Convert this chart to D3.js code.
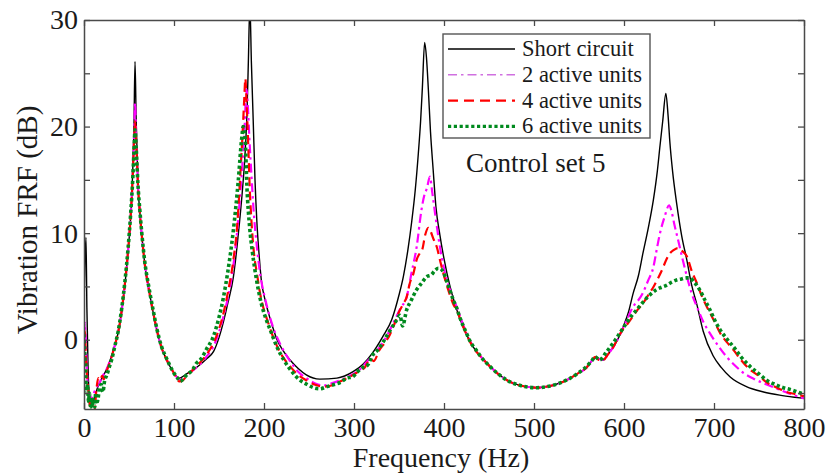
<!DOCTYPE html>
<html>
<head>
<meta charset="utf-8">
<script src="https://cdn.jsdelivr.net/npm/d3@7"></script>
<style>
  html, body { margin: 0; padding: 0; background: #fff; }
  svg { display: block; }
  text { font-family: "Liberation Serif", "Times New Roman", serif; }
</style>
</head>
<body>
<svg id="chart" width="829" height="475"></svg>
<script>
// ---------------- data ----------------
const xTicks = [0, 100, 200, 300, 400, 500, 600, 700, 800];
const yTicks = [-5, 0, 5, 10, 15, 20, 25, 30];
const yTickLabels = [0, 10, 20, 30];
const seriesNames = ["Short circuit", "2 active units", "4 active units", "6 active units"];

const shortCircuit = [
  [0,3.0],[1,7.0],[2.2,9.6],[3.2,3.0],[4.5,-2.5],[6,-5.5],[8,-6.2],[11,-5.6],[15,-4.5],[20,-3.6],
  [25,-2.8],[30,-1.7],[34,-0.6],[38,0.7],[42,2.8],[45.5,5.2],[49,8.3],[52,11.8],[54,15.5],[55.5,20],
  [56.7,26.1],[58,20.5],[60,14.5],[62,12],[64,10],[68,6.8],[71.5,5],[77,2.5],[81,0.9],[86,-0.7],
  [92,-1.9],[99,-3.0],[106,-3.6],[114,-3.2],[125,-2.6],[136,-1.8],[144,-1.1],[150,0.2],[155,1.7],
  [160,3.5],[166,5.9],[170,8.7],[173,11.2],[176,14],[179,17.5],[181,21],[182.6,26],[184.3,31.5],
  [186,26],[188,20.6],[190,15],[192,11.2],[195,7.5],[197,5.6],[201,3.8],[205,2.5],[210,1.1],[214,0.1],
  [221,-1.0],[229,-1.9],[238,-2.7],[247,-3.3],[262,-3.7],[281,-3.6],[299,-3.0],[310,-2.3],[320,-1.3],
  [332,0.3],[342,1.9],[350,4.2],[355,6.0],[360,8.5],[364,11.0],[368,14],[371.5,17.5],[374,20.5],
  [376,23.7],[378.5,27.9],[380.5,26.5],[382.6,23.5],[385,19.5],[388,15.9],[391,12.5],[395.5,9.8],
  [400,7.6],[406.7,5.0],[412,3.4],[418,1.9],[425,0.5],[432.6,-0.7],[441,-1.6],[451,-2.5],[460,-3.2],
  [470,-3.8],[485,-4.3],[503,-4.5],[520,-4.3],[536,-3.8],[548,-3.2],[558.5,-2.6],[564,-2.0],[568,-1.7],
  [572,-1.8],[577,-1.9],[582,-1.4],[588,-0.7],[594,0.2],[599,1.2],[605,2.6],[610,4.3],[616,6.0],
  [621,8.1],[627,10.5],[632.6,13.1],[637,15.8],[640,18.2],[643,20.5],[646.5,23.1],[649,21.0],[651,18.5],
  [654,15.8],[658.5,12.8],[664,9.8],[670,7.4],[675,5.2],[681,3.3],[688,0.8],[699,-1.5],[708,-2.6],
  [718,-3.5],[736,-4.4],[755,-4.9],[773,-5.2],[790,-5.4],[800,-5.5]
];

const twoUnits = [
  [0,-1],[0.8,1.6],[1.8,0.5],[3,-2.5],[5,-4.8],[7,-5.5],[10,-5.2],[13,-4.6],[17,-4.1],[20,-3.5],
  [25,-2.8],[30,-1.7],[34,-0.6],[38,0.7],[42,2.8],[45.5,5.2],[49,8.3],[52,11.8],[54,15.2],[55.6,19],
  [56.7,22.2],[58,19],[60,14.5],[62,12],[64,10],[68,6.8],[71.5,5],[77,2.5],[81,0.9],[86,-0.7],
  [92,-1.9],[99,-3.0],[106,-3.7],[110,-3.6],[114,-3.3],[125,-2.6],[136,-1.6],[144,-0.6],[150,0.7],
  [155,2.2],[160,4.0],[166,7.0],[170,10],[173,13],[176,16.5],[178.5,20],[180.5,23.5],[182,22],
  [184,18.5],[186,15.5],[189,11.5],[192,8.8],[196,6.0],[200,4.3],[205,2.6],[210,1.2],[218,-0.4],
  [229,-2.0],[238,-3.0],[247,-3.6],[257,-4.1],[266,-4.3],[275,-4.1],[285,-3.8],[295,-3.4],[305,-2.9],
  [315,-2.0],[322,-1.4],[330,-0.5],[338,0.6],[345,1.8],[352,3.0],[358.5,4.0],[364,6.3],[369.6,8.7],
  [375,12.2],[378,13.5],[381,14.2],[384.4,15.3],[387,13.8],[390,11.9],[395.5,8.7],[403,5.6],[409,4.2],
  [414,3.1],[420,1.7],[426,0.4],[433,-0.7],[441,-1.6],[451,-2.5],[460,-3.2],[470,-3.8],[485,-4.3],
  [503,-4.5],[520,-4.3],[536,-3.8],[548,-3.2],[558.5,-2.6],[564,-2.0],[568,-1.7],[572,-1.8],[577,-1.9],
  [582,-1.4],[588,-0.7],[594,0.2],[599,1.1],[603,1.8],[610,3.1],[615,3.6],[621,4.4],[627,5.6],
  [632.6,6.8],[636,8.3],[640,10.0],[645,11.5],[650,12.6],[653,12.0],[656,10.8],[660,9.4],[665,7.6],
  [670,5.9],[675,4.4],[681,3.1],[688,1.7],[695.5,0.6],[705,-0.6],[714,-1.6],[723,-2.4],[732.6,-3.1],
  [745,-3.7],[758.5,-4.2],[770,-4.6],[782,-5.0],[796,-5.4],[800,-5.5]
];

const fourUnits = [
  [0,0.5],[1,0.8],[2,-1.5],[4,-4],[6,-5.8],[8,-7],[10,-7.5],[12,-6.5],[14,-4.5],[16,-3.6],[18,-3.8],
  [20,-3.4],[22,-3.7],[25,-3.0],[30,-1.8],[34,-0.6],[38,0.7],[42,2.8],[45.5,5.3],[49,8.4],[52,11.8],
  [54,15.0],[55.6,18.5],[56.7,20.5],[58,18.5],[60,14.5],[62,12],[64,10],[68,6.8],[71.5,5],[77,2.5],
  [81,0.9],[86,-0.7],[92,-1.9],[99,-3.0],[106,-3.9],[110,-3.8],[114,-3.4],[125,-2.5],[136,-1.4],
  [144,-0.3],[150,1.0],[155,2.5],[160,4.5],[166,7.5],[170,10.5],[172,13],[174,16],[176,19],[178,22.5],
  [179.3,24.5],[180.5,22.5],[182.6,18],[184,14.5],[186,11.2],[189,8.0],[192,6.3],[196,4.2],[199,3.1],
  [205,1.5],[210,0.3],[218,-1.2],[229,-2.5],[238,-3.3],[247,-3.8],[256,-4.2],[266,-4.4],[275,-4.3],
  [285,-3.9],[295,-3.5],[305,-3.0],[312,-2.6],[318,-1.8],[322,-2.0],[328,-1.0],[335,-0.2],[340,0.5],
  [345,1.5],[350,2.6],[355,3.4],[358.5,4.0],[362,5.3],[366,6.2],[369.6,7.5],[373,8.1],[376,8.5],
  [379,9.8],[382.6,10.5],[385,10.2],[388,9.5],[392,8.7],[396,7.3],[399,6.3],[405,4.6],[410,3.4],
  [415,2.6],[420,1.5],[426,0.3],[433,-0.8],[441,-1.6],[451,-2.5],[460,-3.2],[470,-3.8],[485,-4.3],
  [503,-4.5],[520,-4.3],[536,-3.8],[548,-3.2],[558.5,-2.6],[564,-2.0],[568,-1.6],[572,-1.9],[577,-1.9],
  [582,-1.4],[588,-0.7],[594,0.3],[599,1.0],[604,1.5],[610,2.2],[615,2.8],[621,3.4],[627,4.2],[633,5.0],
  [638,5.8],[642,6.5],[647,7.5],[651,8.1],[655,8.4],[660,8.6],[665,8.3],[670,7.8],[675,6.5],[681,5.3],
  [686,4.2],[692,3.1],[700,1.8],[707,0.6],[714,-0.2],[722,-1.0],[730,-1.9],[740,-2.8],[750,-3.4],
  [758.5,-4.0],[770,-4.5],[780.7,-4.9],[790,-5.1],[800,-5.3]
];

const sixUnits = [
  [0,0.5],[1,-1.5],[2,-3.5],[3,-5.0],[4,-4.2],[5,-5.8],[6,-5.0],[7,-6.2],[8,-5.4],[9,-6.4],[10,-5.6],
  [12,-6.3],[13,-5.0],[15,-5.8],[17,-4.6],[19,-4.2],[21,-4.9],[23,-3.8],[25,-3.4],[28,-2.6],[31,-1.8],
  [34,-0.7],[38,0.8],[42,3.0],[45.5,5.5],[49,8.6],[52,12.0],[54,14.8],[55.6,17.8],[56.7,19.7],[58,18],
  [60,14.5],[62,12.2],[64,10.2],[68,7.0],[71.5,5.2],[77,2.7],[81,1.0],[86,-0.6],[92,-1.8],[99,-3.0],
  [104,-3.6],[107,-3.9],[110,-3.7],[114,-3.3],[120,-2.9],[125,-2.2],[130,-1.8],[136,-0.9],[143.7,0.3],
  [150,2.1],[155,4.0],[160,6.5],[166,10.3],[171.5,15],[175,18.7],[177,20.0],[179,19],[181,14.4],
  [184,10.6],[187,8.3],[190,6.5],[197,3.4],[202,2.0],[207,0.9],[214,-0.6],[222,-1.9],[231,-3.0],
  [240,-3.8],[248,-4.2],[255,-4.5],[262,-4.6],[270,-4.4],[278,-4.2],[285,-4.0],[292,-3.6],[298,-3.5],
  [304,-3.0],[310,-2.6],[315,-2.4],[321,-1.4],[326,-1.0],[331,-0.4],[336,0.3],[341,1.0],[347,1.8],
  [351,2.3],[354,1.3],[358.5,2.8],[363,3.6],[369.6,4.7],[375,5.3],[380.7,5.9],[386,6.1],[390,6.5],
  [393.7,6.7],[397,6.6],[400,6.2],[403,5.5],[406.7,4.6],[410,3.8],[414,3.0],[418,2.0],[424,0.8],
  [430,-0.3],[436,-1.0],[441,-1.6],[451,-2.5],[460,-3.2],[470,-3.8],[485,-4.3],[503,-4.5],[520,-4.3],
  [536,-3.8],[548,-3.2],[558.5,-2.5],[564,-2.0],[568,-1.6],[573,-1.9],[580,-1.2],[588,-0.3],[596,0.7],
  [603,1.6],[609,2.3],[614,2.8],[620,3.4],[625,3.9],[630,4.3],[636,4.7],[641,4.9],[647,5.1],[653,5.4],
  [658.5,5.6],[664,5.7],[669,5.8],[673,5.8],[678,5.4],[684,4.7],[690,3.7],[695.5,2.8],[701,1.8],
  [707,0.9],[714,0.1],[722,-0.7],[730,-1.6],[740,-2.5],[750,-3.2],[758.5,-3.8],[768,-4.2],[777,-4.5],
  [786,-4.7],[796,-5.0],[800,-5.1]
];

// ---------------- drawing ----------------
const svg = d3.select("#chart");
const x = d3.scaleLinear().domain([0, 800]).range([84, 804]);
const y = d3.scaleLinear().domain([-6.5, 30]).range([409, 20]);

const axisColor = "#4a4a4a";
const labelColor = "#1a1a1a";

svg.append("defs").append("clipPath").attr("id", "plotClip")
  .append("rect")
  .attr("x", x(0)).attr("y", y(30))
  .attr("width", x(800) - x(0)).attr("height", y(-6.5) - y(30));

const styles = [
  { data: shortCircuit, color: "#000000", width: 1.4, dash: null },
  { data: twoUnits, color: "#ff00ff", width: 2.2, dash: "9,4,2.5,4" },
  { data: fourUnits, color: "#ff0000", width: 2.2, dash: "9,5" },
  { data: sixUnits, color: "#008a1e", width: 3.6, dash: "3.2,2.6" }
];

const line = d3.line()
  .x(d => x(d[0]))
  .y(d => y(d[1]))
  .curve(d3.curveMonotoneX);

const plot = svg.append("g").attr("clip-path", "url(#plotClip)");
styles.forEach(s => {
  plot.append("path")
    .datum(s.data)
    .attr("fill", "none")
    .attr("stroke", s.color)
    .attr("stroke-width", s.width)
    .attr("stroke-linejoin", "round")
    .attr("stroke-linecap", "butt")
    .attr("stroke-dasharray", s.dash)
    .attr("d", line);
});

// axes (ticks inside, box frame)
function styleAxis(g) {
  g.select(".domain").attr("stroke", axisColor).attr("stroke-width", 1.5);
  g.selectAll(".tick line").attr("stroke", axisColor).attr("stroke-width", 1.3);
  g.selectAll(".tick text")
    .attr("fill", labelColor)
    .style("font-family", '"Liberation Serif", serif')
    .style("font-size", "28px");
}

svg.append("g")
  .attr("transform", `translate(0,${y(-6.5)})`)
  .call(d3.axisBottom(x).tickValues(xTicks).tickSize(-6).tickSizeOuter(0).tickPadding(8))
  .call(styleAxis);

svg.append("g")
  .attr("transform", `translate(0,${y(30)})`)
  .call(d3.axisTop(x).tickValues(xTicks).tickSize(-6).tickSizeOuter(0).tickFormat(""))
  .call(styleAxis);

svg.append("g")
  .attr("transform", `translate(${x(0)},0)`)
  .call(d3.axisLeft(y).tickValues(yTicks).tickSize(-6).tickSizeOuter(0).tickPadding(6)
    .tickFormat(d => yTickLabels.includes(d) ? String(d) : ""))
  .call(styleAxis);

svg.append("g")
  .attr("transform", `translate(${x(800)},0)`)
  .call(d3.axisRight(y).tickValues(yTicks).tickSize(-6).tickSizeOuter(0).tickFormat(""))
  .call(styleAxis);

// axis titles
svg.append("text")
  .attr("x", 441).attr("y", 467)
  .attr("text-anchor", "middle")
  .attr("fill", labelColor)
  .style("font-size", "28px")
  .text("Frequency (Hz)");

svg.append("text")
  .attr("transform", "translate(37,220) rotate(-90)")
  .attr("text-anchor", "middle")
  .attr("fill", labelColor)
  .style("font-size", "29px")
  .text("Vibration FRF (dB)");

// legend
const legend = svg.append("g");
legend.append("rect")
  .attr("x", 443).attr("y", 34).attr("width", 207).attr("height", 104)
  .attr("fill", "#fff").attr("stroke", "#555").attr("stroke-width", 1.4);

const legendStyles = [
  { color: "#000000", width: 1.4, dash: null },
  { color: "#d070e0", width: 1.6, dash: "9,4,2.5,4" },
  { color: "#ff0000", width: 2.2, dash: "10,6" },
  { color: "#008a1e", width: 3.4, dash: "3.2,2.6" }
];
const legendYs = seriesNames.map((_, i) => 49 + i * 25.8);
seriesNames.forEach((name, i) => {
  const ly = legendYs[i];
  legend.append("line")
    .attr("x1", 448).attr("x2", 515).attr("y1", ly).attr("y2", ly)
    .attr("stroke", legendStyles[i].color)
    .attr("stroke-width", legendStyles[i].width)
    .attr("stroke-dasharray", legendStyles[i].dash);
  legend.append("text")
    .attr("x", 522).attr("y", ly + 7)
    .attr("fill", labelColor)
    .style("font-size", "22.5px")
    .text(name);
});

svg.append("text")
  .attr("x", 466).attr("y", 172)
  .attr("fill", labelColor)
  .style("font-size", "27px")
  .text("Control set 5");
</script>
</body>
</html>
